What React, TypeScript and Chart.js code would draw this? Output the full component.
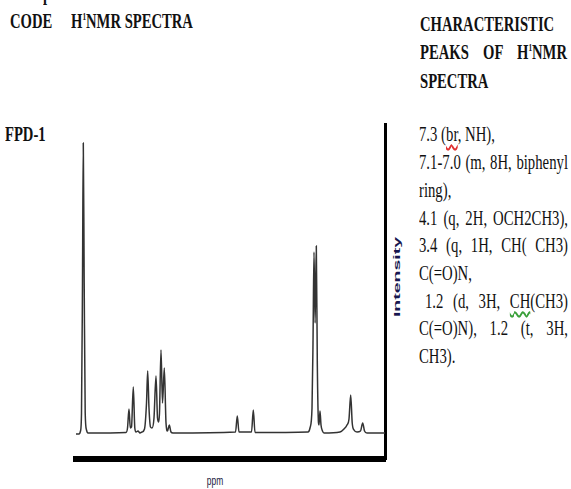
import React, { useEffect, useRef } from "react";
import { Chart, registerables } from "chart.js";

Chart.register(...registerables);

// 1H NMR trace of FPD-1: chemical shift (ppm) and relative intensity (a.u.)
const shiftPpm = [
  10.0, 9.903, 9.854, 9.822, 9.79, 9.764, 9.735, 9.702, 9.66, 9.612,
  8.382, 8.333, 8.285, 8.243, 8.204, 8.146, 8.097, 8.058, 7.994, 7.929,
  7.864, 7.783, 7.718, 7.68, 7.638, 7.589, 7.54, 7.476, 7.411, 7.362,
  7.324, 7.298, 7.249, 7.201, 7.142, 7.087, 7.039, 6.981, 6.926, 6.861,
  4.838, 4.78, 4.725, 4.32, 4.262, 4.207,
  2.492, 2.427, 2.362, 2.33, 2.298, 2.262, 2.223, 2.191, 2.152, 2.136,
  2.104, 2.071, 2.023, 1.974,
  1.456, 1.327, 1.23, 1.165, 1.11, 1.061, 1.003, 0.906, 0.793, 0.722,
  0.663, 0.583, 0.0,
];
const intensity = [
  -1, -1, 2, 20, 150, 290, 150, 20, 3, 0,
  0.5, 5, 24, 5, 6, 46, 5, 1, 2, 0,
  1, 4, 30, 62, 25, 6, 5, 15, 57, 15,
  11, 20, 83, 30, 65, 10, 2, 8, 1, 0,
  1, 17, 1, 1, 23, 0.5,
  1, 5, 25, 90, 181, 110, 187, 70, 10, 8,
  22, 8, 2, 0,
  1, 4, 8, 14, 38, 10, 3, 1, 2, 10,
  2, 0, 0,
];
const ppmRange = [0, 10];
const intensityRange = [-26, 309];

const compoundCode = "FPD-1";
const peakLines = [
  "7.3 (br, NH),",
  "7.1-7.0 (m, 8H, biphenyl",
  "ring),",
  "4.1 (q, 2H, OCH2CH3),",
  "3.4 (q, 1H, CH( CH3)",
  "C(=O)N,",
  "1.2 (d, 3H, CH(CH3)",
  "C(=O)N), 1.2 (t, 3H,",
  "CH3).",
];

const SERIF = "'Liberation Serif', 'Times New Roman', serif";
const SANS = "'Liberation Sans', Arial, sans-serif";
const FS = 22;

type TLProps = {
  left: number;
  top: number;
  width?: number;
  scale: number;
  bold?: boolean;
  justify?: boolean;
  children: React.ReactNode;
};

function TextLine({ left, top, width, scale, bold, justify, children }: TLProps) {
  return (
    <div
      style={{
        position: "absolute",
        left,
        top,
        width: width ? width / scale : undefined,
        transform: `scaleX(${scale})`,
        transformOrigin: "left top",
        fontFamily: SERIF,
        fontSize: FS,
        lineHeight: `${FS}px`,
        fontWeight: bold ? "bold" : "normal",
        color: "#111",
        whiteSpace: justify ? "normal" : "nowrap",
        textAlign: justify ? "justify" : "left",
        textAlignLast: justify ? "justify" : "left",
      }}
    >
      {children}
    </div>
  );
}

const sup: React.CSSProperties = { fontSize: 11, lineHeight: 0, verticalAlign: 8 };
const redWave: React.CSSProperties = {
  textDecorationLine: "underline",
  textDecorationStyle: "wavy",
  textDecorationColor: "#e03030",
  textUnderlineOffset: "3px",
};
const greenWave: React.CSSProperties = {
  ...redWave,
  textDecorationColor: "#3aa03a",
};

function Spectrum() {
  const ref = useRef<HTMLCanvasElement | null>(null);
  useEffect(() => {
    if (!ref.current) return;
    const points = shiftPpm.map((x, i) => ({ x, y: intensity[i] }));
    const chart = new Chart(ref.current, {
      type: "line",
      data: {
        datasets: [
          {
            label: compoundCode,
            data: points,
            borderColor: "#333333",
            borderWidth: 1.5,
            pointRadius: 0,
            fill: false,
            cubicInterpolationMode: "monotone",
          },
        ],
      },
      options: {
        animation: false,
        responsive: false,
        maintainAspectRatio: false,
        layout: { padding: { left: 6, right: 5, top: 6, bottom: 6 } },
        plugins: { legend: { display: false }, tooltip: { enabled: false } },
        scales: {
          x: {
            type: "linear",
            reverse: true,
            min: ppmRange[0],
            max: ppmRange[1],
            ticks: { display: false },
            grid: { display: false, drawTicks: false },
            border: { display: true, width: 6, color: "#000" },
          },
          y: {
            position: "right",
            min: intensityRange[0],
            max: intensityRange[1],
            ticks: { display: false },
            grid: { display: false, drawTicks: false },
            border: { display: true, width: 3, color: "#000" },
          },
        },
      },
    });
    return () => chart.destroy();
  }, []);
  return (
    <canvas
      ref={ref}
      width={320}
      height={347}
      style={{ position: "absolute", left: 70, top: 118, width: 320, height: 347 }}
    />
  );
}

export default function App() {
  const hs = 0.665;
  const bs = 0.67;
  const bodyTops = [122.6, 150.6, 178.6, 206.6, 234.1, 261.6, 289.6, 317.1, 344.6];
  const colLeft = 419;
  const colWidth = 149;
  return (
    <div
      style={{
        position: "absolute",
        left: 0,
        top: 0,
        width: 571,
        height: 489,
        overflow: "hidden",
        background: "#fff",
      }}
    >
      <TextLine left={43} top={-17.9} scale={hs} bold>p</TextLine>
      <TextLine left={9.5} top={9.6} scale={hs} bold>CODE</TextLine>
      <TextLine left={71} top={9.6} scale={hs} bold>
        H<span style={sup}>1</span>NMR SPECTRA
      </TextLine>
      <TextLine left={colLeft + 1} top={12.6} scale={hs} bold>CHARACTERISTIC</TextLine>
      <TextLine left={colLeft + 1} top={41.3} width={147} scale={hs} bold justify>
        PEAKS OF H<span style={sup}>1</span>NMR
      </TextLine>
      <TextLine left={colLeft + 1} top={70} scale={hs} bold>SPECTRA</TextLine>

      <TextLine left={5} top={123.1} scale={hs} bold>{compoundCode}</TextLine>

      <TextLine left={colLeft} top={bodyTops[0]} scale={bs}>
        7.3 (<span style={redWave}>br</span>, NH),
      </TextLine>
      <TextLine left={colLeft} top={bodyTops[1]} width={colWidth} scale={bs} justify>
        {peakLines[1]}
      </TextLine>
      <TextLine left={colLeft} top={bodyTops[2]} scale={bs}>{peakLines[2]}</TextLine>
      <TextLine left={colLeft} top={bodyTops[3]} width={colWidth} scale={bs} justify>
        {peakLines[3]}
      </TextLine>
      <TextLine left={colLeft} top={bodyTops[4]} width={colWidth} scale={bs} justify>
        {peakLines[4]}
      </TextLine>
      <TextLine left={colLeft} top={bodyTops[5]} scale={bs}>{peakLines[5]}</TextLine>
      <TextLine left={colLeft + 6} top={bodyTops[6]} width={colWidth - 6} scale={bs} justify>
        1.2 (d, 3H, <span style={greenWave}>CH</span>(CH3)
      </TextLine>
      <TextLine left={colLeft} top={bodyTops[7]} width={colWidth} scale={bs} justify>
        {peakLines[7]}
      </TextLine>
      <TextLine left={colLeft} top={bodyTops[8]} scale={bs}>{peakLines[8]}</TextLine>

      <Spectrum />

      <div
        style={{
          position: "absolute",
          left: 397,
          top: 277,
          transform: "translate(-50%, -50%) rotate(-90deg) scale(1.5, 0.7)",
          fontFamily: SANS,
          fontWeight: "bold",
          fontSize: 13,
          lineHeight: 1,
          color: "#17174f",
          whiteSpace: "nowrap",
        }}
      >
        Intensity
      </div>
      <div
        style={{
          position: "absolute",
          left: 215,
          top: 481,
          transform: "translate(-50%, -50%) scaleX(0.7)",
          fontFamily: SANS,
          fontSize: 12,
          lineHeight: 1,
          color: "#202040",
          whiteSpace: "nowrap",
        }}
      >
        ppm
      </div>
    </div>
  );
}
